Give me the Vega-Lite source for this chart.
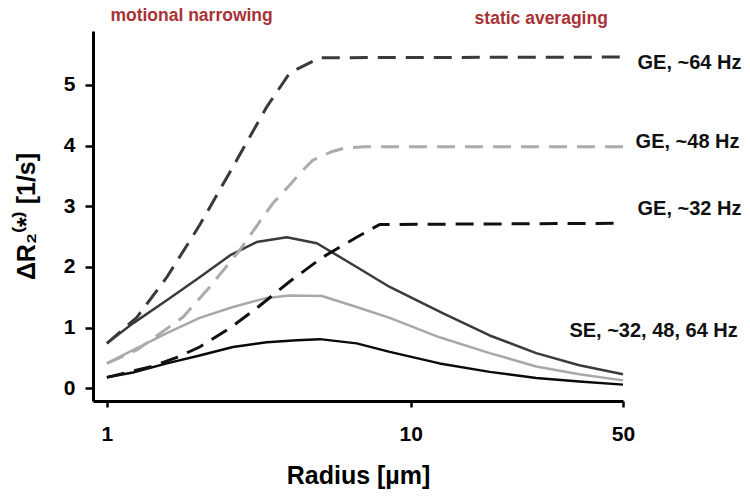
{
  "$schema": "https://vega.github.io/schema/vega-lite/v6.json",
  "width": 530,
  "height": 370,
  "autosize": {"type": "none"},
  "padding": {"left": 93, "top": 31, "right": 127, "bottom": 97},
  "background": "white",
  "config": {
    "view": {"stroke": null},
    "font": "Liberation Sans",
    "axis": {"grid": false, "domainColor": "black", "tickColor": "black", "labelColor": "black", "titleColor": "black", "labelFont": "Liberation Sans", "titleFont": "Liberation Sans", "labelFontWeight": "bold", "titleFontWeight": "bold"}
  },
  "datasets": {
    "curves": [
      {"series": "GE64", "kind": "GE", "R": 1.0, "v": 0.74},
      {"series": "GE64", "kind": "GE", "R": 1.255, "v": 1.17},
      {"series": "GE64", "kind": "GE", "R": 1.575, "v": 1.83},
      {"series": "GE64", "kind": "GE", "R": 2.02, "v": 2.69},
      {"series": "GE64", "kind": "GE", "R": 2.6, "v": 3.65},
      {"series": "GE64", "kind": "GE", "R": 2.95, "v": 4.14},
      {"series": "GE64", "kind": "GE", "R": 3.36, "v": 4.64},
      {"series": "GE64", "kind": "GE", "R": 4.0, "v": 5.2},
      {"series": "GE64", "kind": "GE", "R": 5.02, "v": 5.45},
      {"series": "GE64", "kind": "GE", "R": 50, "v": 5.46},
      {"series": "GE48", "kind": "GE", "R": 1.0, "v": 0.41},
      {"series": "GE48", "kind": "GE", "R": 1.255, "v": 0.63},
      {"series": "GE48", "kind": "GE", "R": 1.778, "v": 1.17},
      {"series": "GE48", "kind": "GE", "R": 2.18, "v": 1.67},
      {"series": "GE48", "kind": "GE", "R": 2.74, "v": 2.28},
      {"series": "GE48", "kind": "GE", "R": 3.26, "v": 2.82},
      {"series": "GE48", "kind": "GE", "R": 3.52, "v": 3.05},
      {"series": "GE48", "kind": "GE", "R": 4.0, "v": 3.35},
      {"series": "GE48", "kind": "GE", "R": 4.31, "v": 3.54},
      {"series": "GE48", "kind": "GE", "R": 4.76, "v": 3.76},
      {"series": "GE48", "kind": "GE", "R": 5.5, "v": 3.9},
      {"series": "GE48", "kind": "GE", "R": 6.06, "v": 3.96},
      {"series": "GE48", "kind": "GE", "R": 7.06, "v": 3.98},
      {"series": "GE48", "kind": "GE", "R": 50, "v": 3.98},
      {"series": "GE32", "kind": "GE", "R": 1.0, "v": 0.18},
      {"series": "GE32", "kind": "GE", "R": 1.385, "v": 0.35},
      {"series": "GE32", "kind": "GE", "R": 1.7, "v": 0.51},
      {"series": "GE32", "kind": "GE", "R": 2.02, "v": 0.68},
      {"series": "GE32", "kind": "GE", "R": 2.54, "v": 0.99},
      {"series": "GE32", "kind": "GE", "R": 3.11, "v": 1.32},
      {"series": "GE32", "kind": "GE", "R": 4.0, "v": 1.76},
      {"series": "GE32", "kind": "GE", "R": 5.13, "v": 2.16},
      {"series": "GE32", "kind": "GE", "R": 6.64, "v": 2.49},
      {"series": "GE32", "kind": "GE", "R": 7.91, "v": 2.7},
      {"series": "GE32", "kind": "GE", "R": 50, "v": 2.72},
      {"series": "SE64", "kind": "SE", "R": 1.0, "v": 0.74},
      {"series": "SE64", "kind": "SE", "R": 1.218, "v": 1.07},
      {"series": "SE64", "kind": "SE", "R": 1.575, "v": 1.45},
      {"series": "SE64", "kind": "SE", "R": 2.02, "v": 1.83},
      {"series": "SE64", "kind": "SE", "R": 2.54, "v": 2.19},
      {"series": "SE64", "kind": "SE", "R": 3.11, "v": 2.41},
      {"series": "SE64", "kind": "SE", "R": 3.91, "v": 2.49},
      {"series": "SE64", "kind": "SE", "R": 4.91, "v": 2.39},
      {"series": "SE64", "kind": "SE", "R": 6.64, "v": 2.0},
      {"series": "SE64", "kind": "SE", "R": 8.53, "v": 1.67},
      {"series": "SE64", "kind": "SE", "R": 12.74, "v": 1.24},
      {"series": "SE64", "kind": "SE", "R": 18.2, "v": 0.87},
      {"series": "SE64", "kind": "SE", "R": 25.9, "v": 0.58},
      {"series": "SE64", "kind": "SE", "R": 35.9, "v": 0.38},
      {"series": "SE64", "kind": "SE", "R": 50, "v": 0.23},
      {"series": "SE48", "kind": "SE", "R": 1.0, "v": 0.41},
      {"series": "SE48", "kind": "SE", "R": 1.218, "v": 0.63},
      {"series": "SE48", "kind": "SE", "R": 1.575, "v": 0.91},
      {"series": "SE48", "kind": "SE", "R": 2.02, "v": 1.16},
      {"series": "SE48", "kind": "SE", "R": 2.6, "v": 1.34},
      {"series": "SE48", "kind": "SE", "R": 3.36, "v": 1.49},
      {"series": "SE48", "kind": "SE", "R": 4.0, "v": 1.53},
      {"series": "SE48", "kind": "SE", "R": 5.1, "v": 1.52},
      {"series": "SE48", "kind": "SE", "R": 6.64, "v": 1.34},
      {"series": "SE48", "kind": "SE", "R": 8.53, "v": 1.16},
      {"series": "SE48", "kind": "SE", "R": 12.45, "v": 0.84},
      {"series": "SE48", "kind": "SE", "R": 18.2, "v": 0.58},
      {"series": "SE48", "kind": "SE", "R": 25.9, "v": 0.36},
      {"series": "SE48", "kind": "SE", "R": 35.9, "v": 0.23},
      {"series": "SE48", "kind": "SE", "R": 50, "v": 0.13},
      {"series": "SE32", "kind": "SE", "R": 1.0, "v": 0.18},
      {"series": "SE32", "kind": "SE", "R": 1.218, "v": 0.26},
      {"series": "SE32", "kind": "SE", "R": 1.575, "v": 0.41},
      {"series": "SE32", "kind": "SE", "R": 2.02, "v": 0.54},
      {"series": "SE32", "kind": "SE", "R": 2.6, "v": 0.68},
      {"series": "SE32", "kind": "SE", "R": 3.36, "v": 0.76},
      {"series": "SE32", "kind": "SE", "R": 4.22, "v": 0.79},
      {"series": "SE32", "kind": "SE", "R": 5.02, "v": 0.81},
      {"series": "SE32", "kind": "SE", "R": 6.64, "v": 0.74},
      {"series": "SE32", "kind": "SE", "R": 8.53, "v": 0.6},
      {"series": "SE32", "kind": "SE", "R": 12.45, "v": 0.41},
      {"series": "SE32", "kind": "SE", "R": 18.2, "v": 0.27},
      {"series": "SE32", "kind": "SE", "R": 25.9, "v": 0.17},
      {"series": "SE32", "kind": "SE", "R": 35.9, "v": 0.11},
      {"series": "SE32", "kind": "SE", "R": 50, "v": 0.06}
    ],
    "labels": [
      {"R": 55.8, "v": 5.36, "text": "GE, ~64 Hz"},
      {"R": 55.0, "v": 4.06, "text": "GE, ~48 Hz"},
      {"R": 55.8, "v": 2.95, "text": "GE, ~32 Hz"},
      {"R": 33.3, "v": 0.94, "text": "SE, ~32, 48, 64 Hz"}
    ],
    "notes": [
      {"R": 1.9, "v": 6.14, "text": "motional narrowing"},
      {"R": 26.9, "v": 6.09, "text": "static averaging"}
    ]
  },
  "encoding": {
    "x": {
      "field": "R", "type": "quantitative",
      "scale": {"type": "log", "domain": [0.9, 50], "nice": false, "zero": false},
      "axis": {
        "values": [1, 10, 50], "format": "d", "title": "Radius [µm]",
        "domainWidth": 3, "tickWidth": 2.5, "tickSize": 6, "labelPadding": 16,
        "labelFontSize": 21, "titleFontSize": 25, "titlePadding": 19, "labelFlush": false
      }
    },
    "y": {
      "field": "v", "type": "quantitative",
      "scale": {"domain": [-0.21, 5.89], "nice": false, "zero": false},
      "axis": {
        "values": [0, 1, 2, 3, 4, 5], "title": "ΔR₂⁽*⁾ [1/s]",
        "domainWidth": 3, "tickWidth": 2.5, "tickSize": 8, "labelPadding": 10,
        "labelFontSize": 21, "titleFontSize": 25, "titlePadding": 24
      }
    }
  },
  "layer": [
    {
      "data": {"name": "curves"},
      "transform": [{"filter": "datum.kind == 'SE'"}],
      "mark": {"type": "line", "strokeWidth": 2.5, "strokeJoin": "round", "clip": false},
      "encoding": {
        "color": {
          "field": "series", "type": "nominal", "legend": null,
          "scale": {"domain": ["GE64", "GE48", "GE32", "SE64", "SE48", "SE32"], "range": ["#3a3a3a", "#ababab", "#111111", "#3a3a3a", "#a8a8a8", "#0a0a0a"]}
        },
        "order": {"field": "R", "type": "quantitative"}
      }
    },
    {
      "data": {"name": "curves"},
      "transform": [{"filter": "datum.kind == 'GE'"}],
      "mark": {"type": "line", "strokeWidth": 3, "strokeDash": [18, 10], "strokeCap": "butt", "clip": false},
      "encoding": {
        "color": {
          "field": "series", "type": "nominal", "legend": null,
          "scale": {"domain": ["GE64", "GE48", "GE32", "SE64", "SE48", "SE32"], "range": ["#3a3a3a", "#ababab", "#111111", "#3a3a3a", "#a8a8a8", "#0a0a0a"]}
        },
        "order": {"field": "R", "type": "quantitative"}
      }
    },
    {
      "data": {"name": "labels"},
      "mark": {"type": "text", "align": "left", "baseline": "middle", "fontSize": 20, "fontWeight": "bold", "color": "#111111", "font": "Liberation Sans"},
      "encoding": {"text": {"field": "text", "type": "nominal"}}
    },
    {
      "data": {"name": "notes"},
      "mark": {"type": "text", "align": "center", "baseline": "middle", "fontSize": 17.5, "fontWeight": "bold", "color": "#a83236", "font": "Liberation Sans"},
      "encoding": {"text": {"field": "text", "type": "nominal"}}
    }
  ]
}
